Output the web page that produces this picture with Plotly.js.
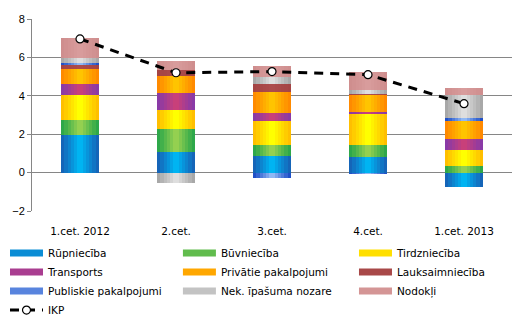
<!DOCTYPE html>
<html>
<head>
<meta charset="utf-8">
<script src="https://cdn.plot.ly/plotly-3.0.1.min.js"></script>
<style>
  html, body { margin: 0; padding: 0; background: #ffffff; }
  #chart { width: 524px; height: 317px; }
</style>
</head>
<body>
<div id="chart"></div>
<script>
// Quarterly GDP growth contributions by sector (percentage points)
const quarters = ['1.cet. 2012', '2.cet.', '3.cet.', '4.cet.', '1.cet. 2013'];

const rupnieciba      = [1.95, 1.06, 0.87, 0.80, -0.74];
const buvnieciba      = [0.78, 1.20, 0.55, 0.62, 0.33];
const tirdznieciba    = [1.30, 0.98, 1.25, 1.62, 0.83];
const transports      = [0.58, 0.89, 0.42, 0.10, 0.58];
const privatie        = [0.78, 0.88, 1.09, 0.88, 0.93];
const lauksaimnieciba = [0.19, 0.32, 0.42, 0.06, 0.00];
const publiskie       = [0.12, 0.00, -0.30, -0.05, 0.15];
const nekipasuma      = [0.26, -0.56, 0.36, 0.21, 1.20];
const nodokli         = [1.04, 0.47, 0.57, 0.93, 0.37];
const ikp             = [6.96, 5.20, 5.26, 5.10, 3.59];

const seriesNames = ['Rūpniecība', 'Būvniecība', 'Tirdzniecība', 'Transports',
  'Privātie pakalpojumi', 'Lauksaimniecība', 'Publiskie pakalpojumi',
  'Nek. īpašuma nozare', 'Nodokļi'];
const seriesValues = [rupnieciba, buvnieciba, tirdznieciba, transports,
  privatie, lauksaimnieciba, publiskie, nekipasuma, nodokli];

// edge / centre colours of each column's horizontal shading
const edgeColors   = ['#1565b8', '#2ea84a', '#ffbf00', '#8a3aa6', '#ff8a00', '#a44444', '#2050c8', '#a8a8a8', '#cf8e8e'];
const centerColors = ['#00b4f2', '#94d050', '#ffff00', '#c8407a', '#ffc400', '#ac4c4c', '#90b8f4', '#dedede', '#d89c9c'];

function hexToRgb(h) {
  return [parseInt(h.substr(1, 2), 16), parseInt(h.substr(3, 2), 16), parseInt(h.substr(5, 2), 16)];
}
function mix(a, b, t) {
  const A = hexToRgb(a), B = hexToRgb(b);
  return 'rgb(' + A.map((v, i) => Math.round(v + (B[i] - v) * t)).join(',') + ')';
}

const traces = [];
// shading layers: each layer is a full stacked column set on its own overlaying x axis
const layerWidths = [0.40, 0.33, 0.26, 0.19, 0.12, 0.06];
const axisIds = ['x', 'x2', 'x3', 'x4', 'x5', 'x6'];
layerWidths.forEach((w, k) => {
  const t = k / (layerWidths.length - 1);
  seriesValues.forEach((vals, i) => {
    traces.push({
      type: 'bar', x: quarters, y: vals, name: seriesNames[i],
      xaxis: axisIds[k], yaxis: 'y', width: w,
      marker: { color: mix(edgeColors[i], centerColors[i], t), line: { width: 0 } },
      showlegend: false, hoverinfo: 'skip'
    });
  });
});

// legend entries, laid out in three columns
const legendIds = ['legend', 'legend2', 'legend3'];
seriesValues.forEach((vals, i) => {
  traces.push({
    type: 'scatter', mode: 'lines', x: [null], y: [null], name: seriesNames[i],
    legend: legendIds[i % 3],
    line: { color: mix(edgeColors[i], centerColors[i], 0.5), width: 7 },
    showlegend: true, hoverinfo: 'skip'
  });
});

// GDP line
traces.push({
  type: 'scatter', mode: 'lines+markers', x: quarters, y: ikp, name: 'IKP',
  xaxis: 'x6', legend: 'legend',
  line: { color: '#000000', width: 3, dash: '9px,7px' },
  marker: { symbol: 'circle', size: 8, color: '#ffffff', line: { color: '#000000', width: 1.2 } }
});

const hiddenAxis = { type: 'category', overlaying: 'x', matches: 'x', visible: false };

function legendAt(x) {
  return {
    orientation: 'v', x: x, y: -0.1437, xanchor: 'left', yanchor: 'top',
    itemwidth: 33, font: { family: 'DejaVu Sans, Verdana, sans-serif', size: 10.5 },
    traceorder: 'normal', tracegroupgap: 0, bgcolor: 'rgba(0,0,0,0)', borderwidth: 0
  };
}

const layout = {
  width: 524, height: 317,
  margin: { l: 32, r: 12, t: 19, b: 106, autoexpand: false },
  paper_bgcolor: '#ffffff', plot_bgcolor: '#ffffff',
  barmode: 'relative', bargap: 0,
  font: { family: 'DejaVu Sans, Verdana, sans-serif', size: 10.5, color: '#000000' },
  showlegend: true,
  xaxis: {
    type: 'category', range: [-0.5, 4.5], showgrid: false, zeroline: false,
    showline: false, ticks: '', ticklabelstandoff: 12, tickfont: { size: 10.5 }, fixedrange: true
  },
  xaxis2: hiddenAxis, xaxis3: hiddenAxis, xaxis4: hiddenAxis, xaxis5: hiddenAxis, xaxis6: hiddenAxis,
  // category separator ticks along the zero line
  xaxis7: {
    type: 'linear', overlaying: 'x', range: [-0.5, 4.5], anchor: 'free', position: 0.2,
    tickvals: [0.5, 1.5, 2.5, 3.5, 4.5], ticks: 'outside', ticklen: 5, tickcolor: '#868686',
    showticklabels: false, showline: true, linecolor: '#868686', linewidth: 1,
    showgrid: false, zeroline: false
  },
  yaxis: {
    range: [-2, 8], dtick: 2, showgrid: true, gridcolor: '#868686', gridwidth: 1,
    zeroline: false, showline: true, linecolor: '#868686', ticks: 'outside', ticklen: 4,
    tickcolor: '#868686', tickfont: { family: 'Liberation Sans, Arial, sans-serif', size: 11 },
    fixedrange: true
  },
  legend: legendAt(-0.05625),
  legend2: legendAt(0.304),
  legend3: legendAt(0.6708)
};

Plotly.newPlot('chart', traces, layout, { displayModeBar: false, staticPlot: true });
</script>
</body>
</html>
